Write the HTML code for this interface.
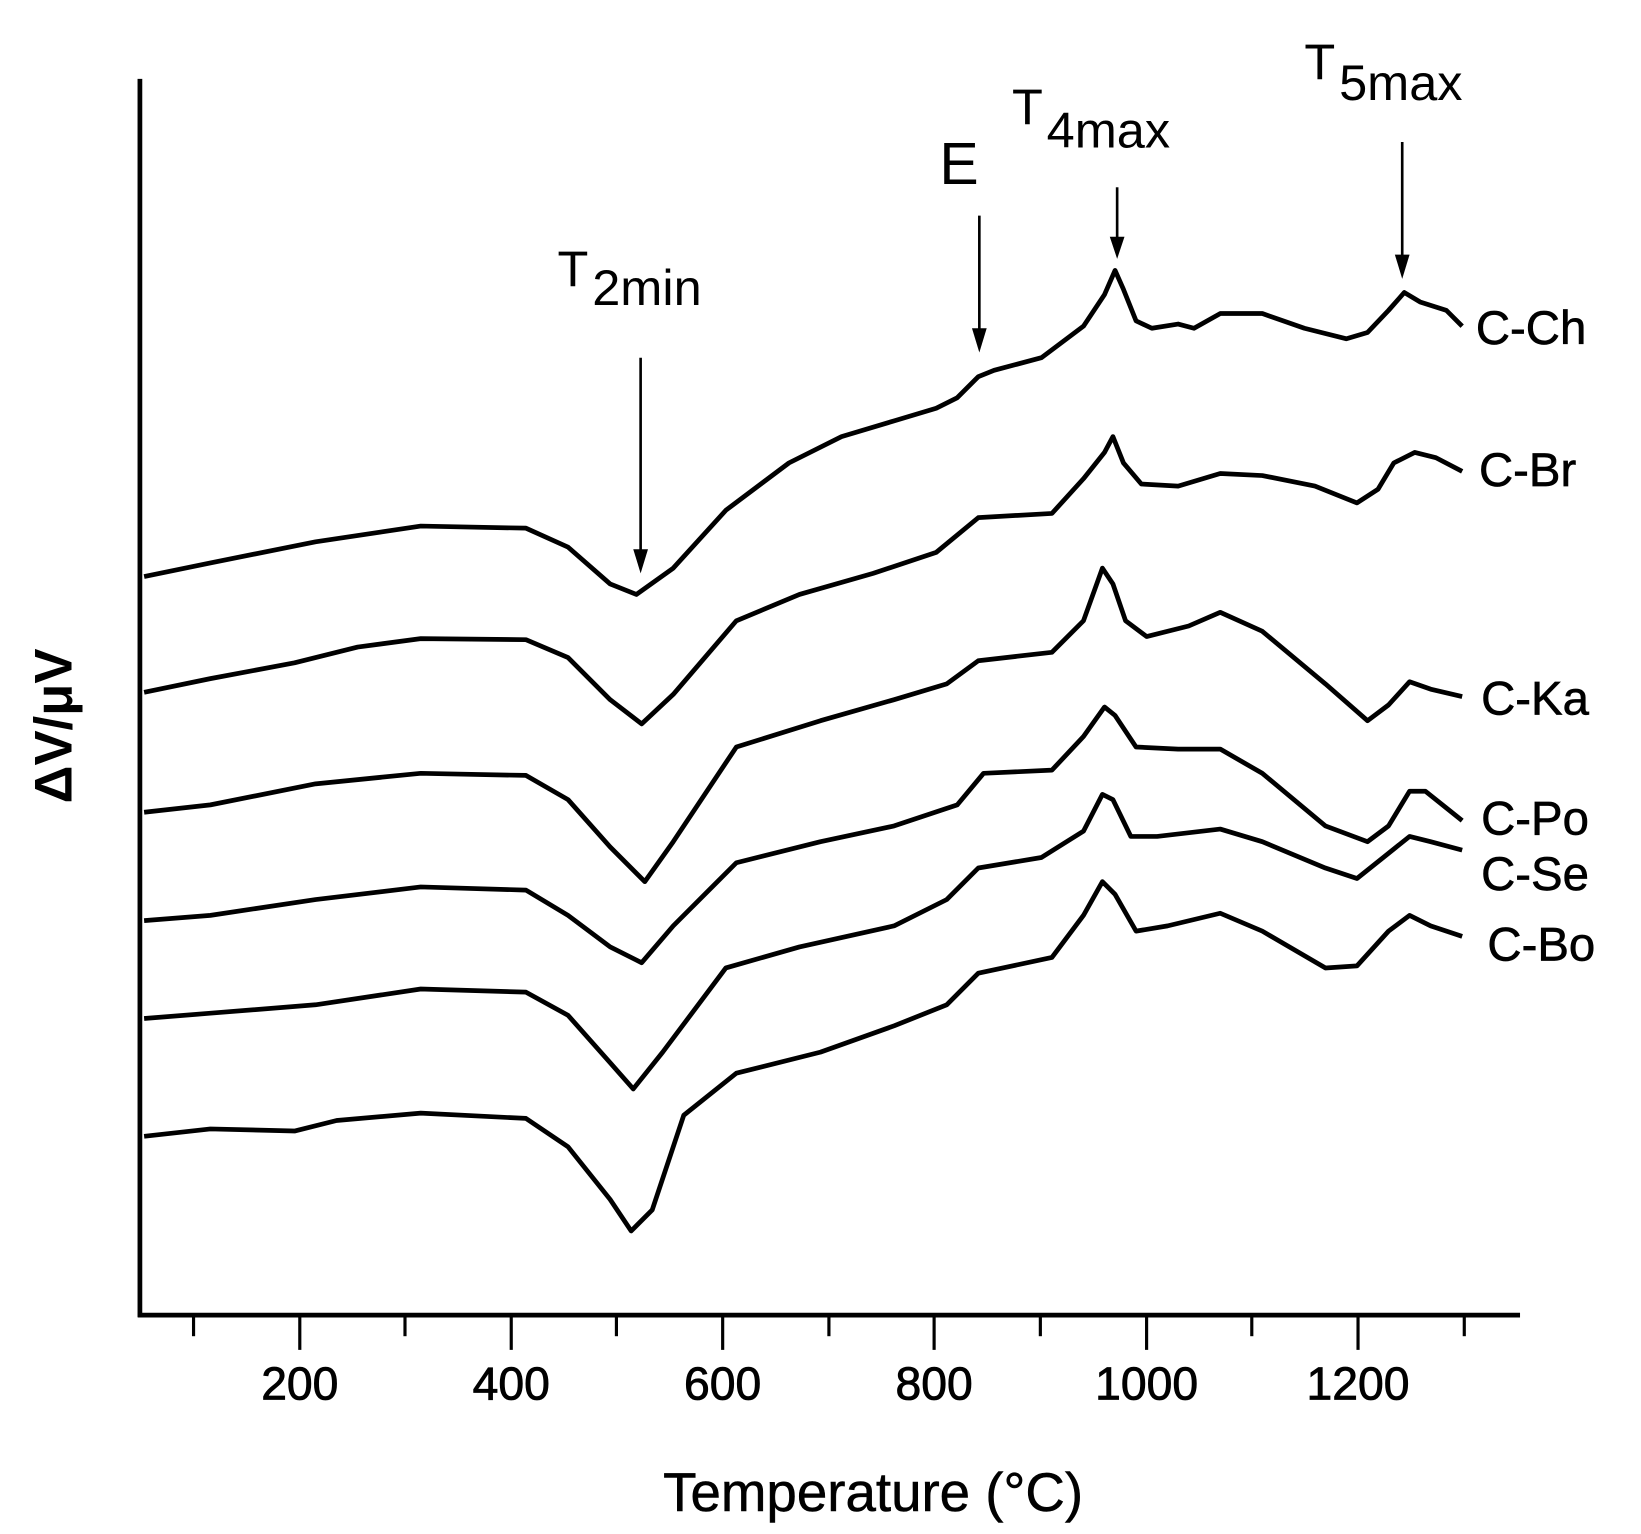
<!DOCTYPE html>
<html><head><meta charset="utf-8"><style>html,body{margin:0;padding:0;background:#fff}svg{display:block}</style></head><body>
<svg width="1641" height="1534" viewBox="0 0 1560 1458" preserveAspectRatio="none" xmlns="http://www.w3.org/2000/svg" font-family="Liberation Sans, Arial, sans-serif">
<rect width="1560" height="1458" fill="#fff"/>
<g stroke="#000" stroke-width="4.5" fill="none">
<line x1="133" y1="75" x2="133" y2="1252"/>
<line x1="131" y1="1250" x2="1445" y2="1250"/>
</g>
<g stroke="#000" stroke-width="3">
<line x1="285" y1="1250" x2="285" y2="1283"/><line x1="486" y1="1250" x2="486" y2="1283"/><line x1="687" y1="1250" x2="687" y2="1283"/><line x1="888" y1="1250" x2="888" y2="1283"/><line x1="1090" y1="1250" x2="1090" y2="1283"/><line x1="1291" y1="1250" x2="1291" y2="1283"/>
<line x1="184" y1="1250" x2="184" y2="1270"/><line x1="385" y1="1250" x2="385" y2="1270"/><line x1="586" y1="1250" x2="586" y2="1270"/><line x1="788" y1="1250" x2="788" y2="1270"/><line x1="989" y1="1250" x2="989" y2="1270"/><line x1="1190" y1="1250" x2="1190" y2="1270"/><line x1="1392" y1="1250" x2="1392" y2="1270"/>
</g>
<g font-size="44" text-anchor="middle" fill="#000" stroke="#000" stroke-width="0.8">
<text x="285" y="1330">200</text><text x="486" y="1330">400</text><text x="687" y="1330">600</text><text x="888" y="1330">800</text><text x="1090" y="1330">1000</text><text x="1291" y="1330">1200</text>
</g>
<text x="830" y="1436" font-size="52" text-anchor="middle" stroke="#000" stroke-width="0.5">Temperature (°C)</text>
<text transform="translate(68,690) rotate(-90)" font-size="50" font-weight="bold" text-anchor="middle">ΔV/μV</text>
<g stroke="#000" stroke-width="4.5" fill="none" stroke-linejoin="round">
<polyline points="137,548 200,535 300,515 400,500 500,502 540,520 580,555 605,565 640,540 690,485 750,440 800,415 850,400 890,388 910,378 930,358 945,352 990,340 1030,310 1050,280 1060,257 1068,275 1080,305 1095,312 1120,308 1135,312 1160,298 1200,298 1240,312 1280,322 1300,316 1320,295 1335,278 1350,287 1375,295 1390,310"/>
<polyline points="137,658 200,645 280,630 340,615 400,607 500,608 540,625 580,665 610,688 640,660 700,590 760,565 830,545 890,525 930,492 1000,488 1030,455 1050,430 1058,415 1068,440 1085,460 1120,462 1160,450 1200,452 1250,462 1290,478 1310,465 1325,440 1345,430 1365,435 1390,448"/>
<polyline points="137,772 200,765 300,745 400,735 500,737 540,760 580,805 613,838 640,800 700,710 780,685 850,665 900,650 930,628 1000,620 1030,590 1048,540 1058,555 1070,590 1090,605 1130,595 1160,582 1200,600 1260,650 1300,685 1320,670 1340,648 1360,655 1390,662"/>
<polyline points="137,875 200,870 300,855 400,843 500,846 540,870 580,900 610,915 640,880 700,820 780,800 850,785 910,765 935,735 1000,732 1030,700 1050,672 1060,680 1080,710 1120,712 1160,712 1200,735 1260,785 1300,800 1320,785 1340,752 1355,752 1375,768 1390,780"/>
<polyline points="137,968 200,963 300,955 400,940 500,943 540,965 580,1010 602,1035 630,1000 690,920 760,900 850,880 900,855 930,825 990,815 1030,790 1048,755 1058,760 1075,795 1100,795 1160,788 1200,800 1260,825 1290,835 1315,815 1340,795 1360,800 1390,808"/>
<polyline points="137,1080 200,1073 280,1075 320,1065 400,1058 500,1063 540,1090 580,1140 600,1170 620,1150 650,1060 700,1020 780,1000 850,975 900,955 930,925 1000,910 1030,870 1048,838 1060,850 1080,885 1110,880 1160,868 1200,885 1260,920 1290,918 1320,885 1340,870 1360,880 1390,890"/>
</g>
<g font-size="45" fill="#000" stroke="#000" stroke-width="0.6">
<text x="1403" y="327">C-Ch</text><text x="1406" y="462">C-Br</text><text x="1408" y="679">C-Ka</text><text x="1408" y="793">C-Po</text><text x="1408" y="846">C-Se</text><text x="1414" y="913">C-Bo</text>
</g>
<g stroke="#000" stroke-width="2.5">
<line x1="609" y1="340" x2="609" y2="525"/><line x1="931" y1="205" x2="931" y2="315"/><line x1="1062" y1="178" x2="1062" y2="228"/><line x1="1333" y1="135" x2="1333" y2="245"/>
</g>
<g fill="#000">
<polygon points="602,522 616,522 609,545"/><polygon points="924,312 938,312 931,335"/><polygon points="1055,225 1069,225 1062,246"/><polygon points="1326,242 1340,242 1333,265"/>
</g>
<g fill="#000" font-size="48">
<text x="530" y="272">T</text><text x="563" y="290">2min</text>
<text x="893" y="175" font-size="56">E</text>
<text x="962" y="118">T</text><text x="995" y="140">4max</text>
<text x="1240" y="75">T</text><text x="1273" y="95">5max</text>
</g>
</svg>
</body></html>
